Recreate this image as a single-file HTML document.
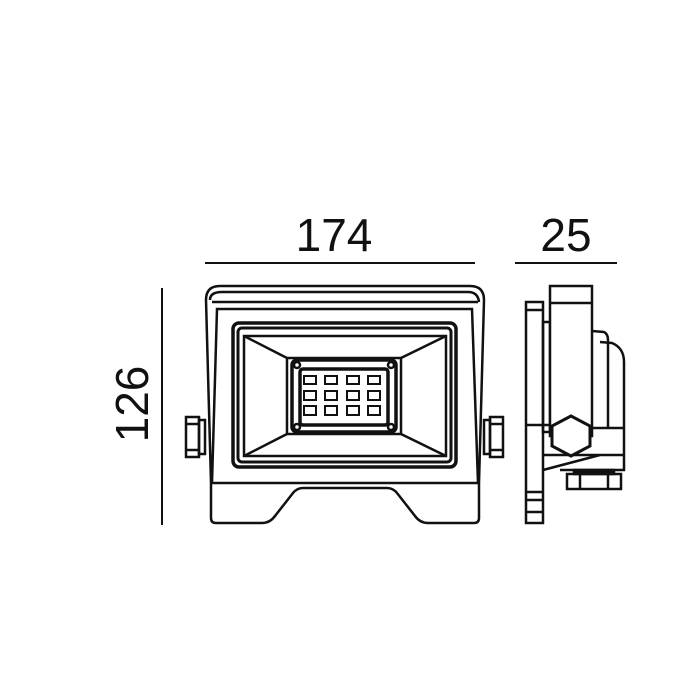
<!DOCTYPE html>
<html><head><style>html,body{margin:0;padding:0;background:#fff}svg{display:block}</style></head><body>
<svg width="700" height="700" viewBox="0 0 700 700" xmlns="http://www.w3.org/2000/svg" fill="none" stroke="#111" stroke-width="2.5" font-family="Liberation Sans, sans-serif">
<!-- dimensions -->
<text x="334" y="251" font-size="46" fill="#111" stroke="none" text-anchor="middle">174</text>
<text x="566" y="251" font-size="46" fill="#111" stroke="none" text-anchor="middle">25</text>
<text transform="translate(148,404) rotate(-90)" font-size="46" fill="#111" stroke="none" text-anchor="middle">126</text>
<line x1="205" y1="263" x2="475" y2="263" stroke-width="2"/>
<line x1="515" y1="263" x2="617" y2="263" stroke-width="2"/>
<line x1="162" y1="288" x2="162" y2="525" stroke-width="2"/>
<!-- front body -->
<path d="M211 483 L206 300 Q206 286 220 286 L470 286 Q484 286 484 300 L479 483"/>
<path d="M210 300 Q210 292 222 292 L468 292 Q478 292 479 302"/>
<line x1="212" y1="302" x2="478" y2="302"/>
<path d="M212 483 L217 309 L472 309 L478 483"/>
<line x1="211" y1="483" x2="479" y2="483"/>
<path d="M211 483 L211 518 Q211 523 216 523 L262 523 Q270 523 275 516 L293 493 Q297 488 303 488 L387 488 Q393 488 397 493 L415 516 Q420 523 428 523 L474 523 Q479 523 479 518 L479 483"/>
<!-- lens frame -->
<rect x="233" y="323" width="223" height="144" rx="6" stroke-width="3.5"/>
<rect x="238" y="328" width="213" height="134" rx="4" stroke-width="3"/>
<rect x="244" y="336" width="202" height="120"/>
<line x1="244" y1="336" x2="287" y2="358"/><line x1="446" y1="336" x2="401" y2="358"/>
<line x1="244" y1="456" x2="287" y2="434"/><line x1="446" y1="456" x2="401" y2="434"/>
<rect x="287" y="358" width="114" height="76"/>
<rect x="292" y="360" width="104" height="72" rx="5" stroke-width="3.5"/>
<rect x="300" y="369" width="88" height="56" rx="3" stroke-width="3.5"/>
<circle cx="297" cy="365" r="3"/><circle cx="391" cy="365" r="3"/><circle cx="297" cy="427" r="3"/><circle cx="391" cy="427" r="3"/>
<g stroke-width="2">
<rect x="304" y="376" width="12" height="8"/><rect x="325" y="376" width="12" height="8"/><rect x="347" y="376" width="12" height="8"/><rect x="368" y="376" width="12" height="8"/>
<rect x="304" y="391" width="12" height="9"/><rect x="325" y="391" width="12" height="9"/><rect x="347" y="391" width="12" height="9"/><rect x="368" y="391" width="12" height="9"/>
<rect x="304" y="406" width="12" height="9"/><rect x="325" y="406" width="12" height="9"/><rect x="347" y="406" width="12" height="9"/><rect x="368" y="406" width="12" height="9"/>
</g>
<!-- side nuts -->
<rect x="186" y="417" width="13" height="40"/><line x1="186" y1="424" x2="199" y2="424"/><line x1="186" y1="450" x2="199" y2="450"/>
<rect x="199" y="420" width="6" height="34"/>
<rect x="490" y="417" width="13" height="40"/><line x1="490" y1="424" x2="503" y2="424"/><line x1="490" y1="450" x2="503" y2="450"/>
<rect x="484" y="420" width="6" height="34"/>
<!-- side view -->
<rect x="526" y="302" width="17" height="221"/>
<line x1="526" y1="310" x2="543" y2="310"/><line x1="526" y1="492" x2="543" y2="492"/><line x1="526" y1="500" x2="543" y2="500"/><line x1="526" y1="512" x2="543" y2="512"/>
<rect x="543" y="322" width="7" height="110"/>
<rect x="550" y="286" width="42" height="150" fill="#fff"/>
<line x1="550" y1="303" x2="592" y2="303"/>
<path d="M592 331 L604 332 Q608 334 608 340 L608 428"/>
<path d="M600 342 L612 343 Q624 348 624 362 L624 470 L560 470"/>
<line x1="592" y1="428" x2="624" y2="428"/>
<line x1="526" y1="425" x2="550" y2="425"/>
<line x1="543" y1="455" x2="624" y2="455"/>
<path d="M543 470 L600 455"/>
<polygon points="571,416 590,426 590,446 571,456 552,446 552,426" stroke-width="3" fill="#fff"/>
<rect x="567" y="474" width="54" height="15"/>
<line x1="580" y1="474" x2="580" y2="489"/><line x1="608" y1="474" x2="608" y2="489"/>
<rect x="574" y="470" width="40" height="4" fill="#111"/>
</svg>
</body></html>
